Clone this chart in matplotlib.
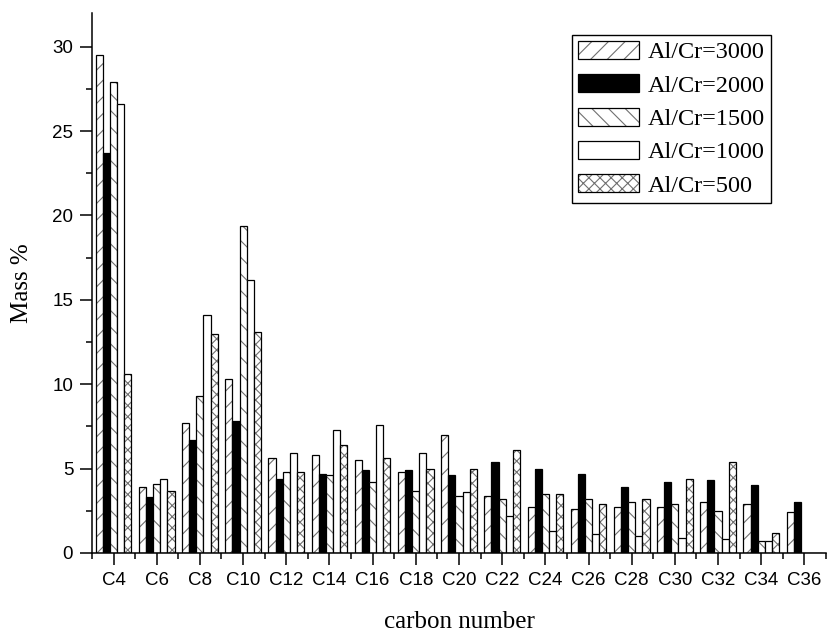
import matplotlib
matplotlib.use("Agg")
import matplotlib.pyplot as plt
import numpy as np
from matplotlib.ticker import MultipleLocator, FixedLocator

# carbon number groups
carbons = ["C4", "C6", "C8", "C10", "C12", "C14", "C16", "C18", "C20",
           "C22", "C24", "C26", "C28", "C30", "C32", "C34", "C36"]

ratio_labels = ["Al/Cr=3000", "Al/Cr=2000", "Al/Cr=1500", "Al/Cr=1000", "Al/Cr=500"]

mass_3000 = [29.5, 3.9, 7.7, 10.3, 5.6, 5.8, 5.5, 4.8, 7.0, 3.4, 2.7, 2.6, 2.7, 2.7, 3.0, 2.9, 2.4]
mass_2000 = [23.7, 3.3, 6.7, 7.8, 4.4, 4.7, 4.9, 4.9, 4.6, 5.4, 5.0, 4.7, 3.9, 4.2, 4.3, 4.0, 3.0]
mass_1500 = [27.9, 4.1, 9.3, 19.4, 4.8, 4.6, 4.2, 3.7, 3.4, 3.2, 3.5, 3.2, 3.0, 2.9, 2.5, 0.7, 0.0]
mass_1000 = [26.6, 4.4, 14.1, 16.2, 5.9, 7.3, 7.6, 5.9, 3.6, 2.2, 1.3, 1.1, 1.0, 0.9, 0.8, 0.7, 0.0]
mass_500 = [10.6, 3.7, 13.0, 13.1, 4.8, 6.4, 5.6, 5.0, 5.0, 6.1, 3.5, 2.9, 3.2, 4.4, 5.4, 1.2, 0.0]

series = [mass_3000, mass_2000, mass_1500, mass_1000, mass_500]
fills = ["white", "black", "white", "white", "white"]
hatches = ["//", None, "\\\\", None, "xxx"]

plt.rcParams["hatch.linewidth"] = 0.8

fig = plt.figure(figsize=(8.27, 6.34), dpi=100)
ax = fig.add_axes([0.1112, 0.1278, 0.8876, 0.8517])

x = np.arange(len(carbons))
w = 0.165
handles = []
for i, vals in enumerate(series):
    pos = x + (i - 2) * w
    # hatch layer in grey, then black outline on top
    b1 = ax.bar(pos, vals, w, color=fills[i], edgecolor="#707070",
                hatch=hatches[i], linewidth=0)
    b2 = ax.bar(pos, vals, w, fill=False, edgecolor="black", linewidth=0.9)
    handles.append((b1[0], b2[0]))

ax.set_xlim(-0.5, len(carbons) - 0.5)
ax.set_ylim(0, 32)

ax.spines["top"].set_visible(False)
ax.spines["right"].set_visible(False)
ax.spines["left"].set_linewidth(1.1)
ax.spines["bottom"].set_linewidth(1.1)

ax.set_xticks(x)
ax.set_xticklabels(carbons, family="Liberation Sans", fontsize=13.5)
ax.xaxis.set_minor_locator(FixedLocator(np.arange(-0.5, len(carbons), 1.0)))
ax.yaxis.set_major_locator(MultipleLocator(5))
ax.yaxis.set_minor_locator(MultipleLocator(2.5))
for lab in ax.get_yticklabels():
    lab.set_family("Liberation Sans")
    lab.set_fontsize(13.5)
ax.tick_params(which="major", direction="out", length=8.5, width=1.1, pad=5)
ax.tick_params(which="minor", direction="out", length=4.3, width=1.1)

ax.set_xlabel("carbon number", family="Liberation Serif", fontsize=18, labelpad=16)
ax.set_ylabel("Mass %", family="Liberation Serif", fontsize=18, labelpad=14)

leg = ax.legend(handles, ratio_labels, loc="upper left",
                bbox_to_anchor=(0.6917, 0.9448), bbox_transform=fig.transFigure,
                prop={"family": "Liberation Serif", "size": 17.5},
                frameon=True, fancybox=False, framealpha=1, edgecolor="black",
                handlelength=2.5, handleheight=0.75, handletextpad=0.35,
                labelspacing=0.45, borderpad=0.25, borderaxespad=0)
leg.get_frame().set_linewidth(1.0)

fig.savefig("out.png", dpi=100)
